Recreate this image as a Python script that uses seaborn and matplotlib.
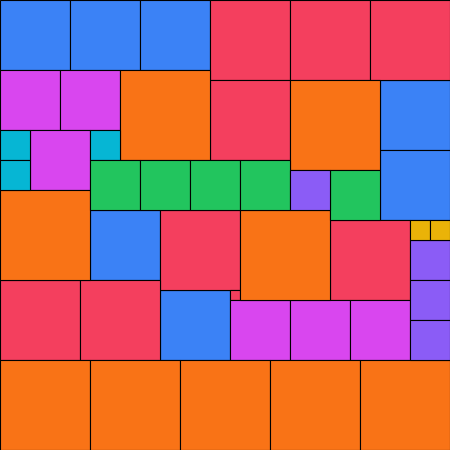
import matplotlib
matplotlib.use("Agg")
import matplotlib.pyplot as plt
import seaborn as sns
import pandas as pd

# Squares: group, left x, top y, side length (pixel units of the 450x450 canvas)
groups = ["blue"] * 7 + ["red"] * 9 + ["magenta"] * 6 + ["orange"] * 9 + \
         ["cyan"] * 3 + ["green"] * 5 + ["purple"] * 4 + ["yellow"] * 2
xs = [0, 70, 140, 380, 380, 90, 160,
      210, 290, 370, 210, 160, 330, 0, 80, 230,
      0, 60, 30, 230, 290, 350,
      120, 290, 0, 240, 0, 90, 180, 270, 360,
      0, 0, 90,
      90, 140, 190, 240, 330,
      290, 410, 410, 410,
      410, 430]
ys = [0, 0, 0, 80, 150, 210, 290,
      0, 0, 0, 80, 210, 220, 280, 280, 290,
      70, 70, 130, 300, 300, 300,
      70, 80, 190, 210, 360, 360, 360, 360, 360,
      130, 160, 130,
      160, 160, 160, 160, 170,
      170, 240, 280, 320,
      220, 220]
sizes = [70, 70, 70, 70, 70, 70, 70,
         80, 80, 80, 80, 80, 80, 80, 80, 10,
         60, 60, 60, 60, 60, 60,
         90, 90, 90, 90, 90, 90, 90, 90, 90,
         30, 30, 30,
         50, 50, 50, 50, 50,
         40, 40, 40, 40,
         20, 20]

palette = {
    "blue": "#3b82f6", "red": "#f43f5e", "magenta": "#d946ef",
    "orange": "#f97316", "cyan": "#06b6d4", "green": "#22c55e",
    "purple": "#8b5cf6", "yellow": "#eab308",
}

df = pd.DataFrame({"group": groups, "x": xs, "y": ys, "size": sizes})

sns.set_theme(style="white")
fig = plt.figure(figsize=(4.5, 4.5), dpi=100)
ax = fig.add_axes([0, 0, 1, 1])

ax.bar(df["x"], df["size"], width=df["size"], bottom=df["y"], align="edge",
       color=[palette[g] for g in df["group"]], edgecolor="black", linewidth=0.8)

ax.set_xlim(0, 450)
ax.set_ylim(450, 0)
ax.axis("off")

fig.savefig("out.png", dpi=100)
